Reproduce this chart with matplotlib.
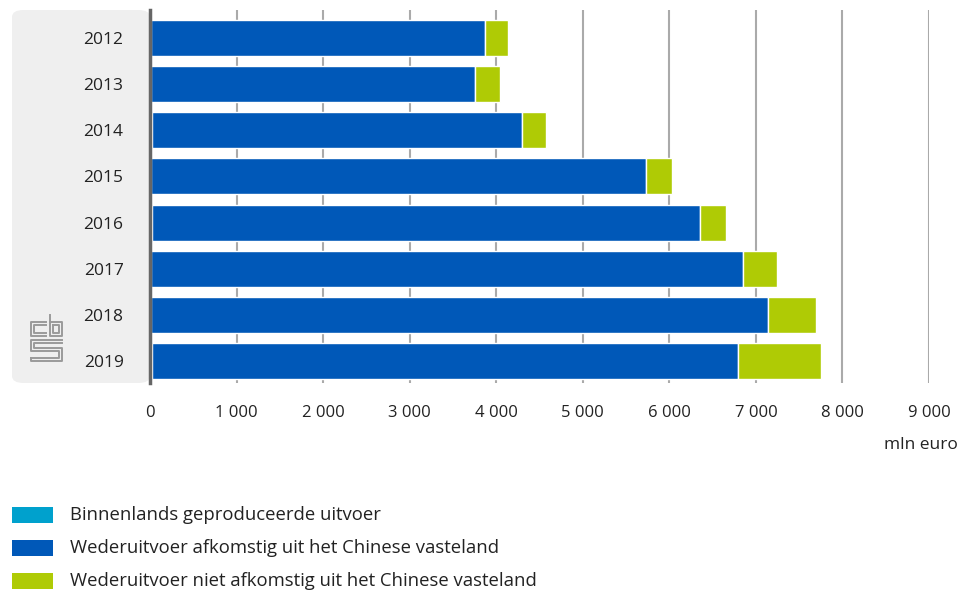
import matplotlib
matplotlib.use("Agg")
import matplotlib.pyplot as plt
from matplotlib.patches import FancyBboxPatch, Rectangle

plt.rcParams['font.family'] = ['Open Sans', 'DejaVu Sans']

years = ['2012', '2013', '2014', '2015', '2016', '2017', '2018', '2019']
binnenlands = [10, 10, 25, 10, 25, 10, 10, 25]
wederuitvoer_china = [3855, 3740, 4275, 5715, 6325, 6845, 7135, 6770]
wederuitvoer_overig = [275, 295, 275, 305, 310, 390, 545, 960]

series_labels = ['Binnenlands geproduceerde uitvoer',
                 'Wederuitvoer afkomstig uit het Chinese vasteland',
                 'Wederuitvoer niet afkomstig uit het Chinese vasteland']
colors = ['#00a1cd', '#0058b8', '#afcb05']

x_ticks = [0, 1000, 2000, 3000, 4000, 5000, 6000, 7000, 8000, 9000]
x_ticklabels = ['0', '1 000', '2 000', '3 000', '4 000', '5 000',
                '6 000', '7 000', '8 000', '9 000']

W, H = 966, 592
fig = plt.figure(figsize=(W / 100, H / 100), dpi=100)

# grey background panel behind the year labels
panel = FancyBboxPatch((12 / W, 1 - 383 / H), (150 - 12) / W, (383 - 10) / H,
                       boxstyle="round,pad=0,rounding_size=0.012",
                       transform=fig.transFigure, facecolor='#efefef',
                       edgecolor='none', zorder=-1)
fig.patches.append(panel)

ax = fig.add_axes([150 / W, 1 - 383 / H, (929 - 150) / W, (383 - 10) / H])
ax.patch.set_alpha(0)
ax.set_zorder(1)

pos = list(range(len(years)))
left = [0] * len(years)
for vals, lab, col in zip([binnenlands, wederuitvoer_china, wederuitvoer_overig],
                          series_labels, colors):
    ax.barh(pos, vals, left=left, height=0.78, color=col, edgecolor='white',
            linewidth=1.0, label=lab, zorder=3)
    left = [l + v for l, v in zip(left, vals)]

ax.set_ylim(7.47, -0.6)
ax.set_xlim(0, 9000)
ax.set_yticks(pos)
ax.set_yticklabels(years, fontsize=12.5, color='#222222')
ax.set_xticks(x_ticks)
ax.set_xticklabels(x_ticklabels, fontsize=12, color='#222222')
ax.tick_params(axis='y', length=0, pad=19)
ax.tick_params(axis='x', length=0, pad=16)
ax.xaxis.grid(True, color='#aaaaaa', linewidth=1.5, zorder=0)
ax.set_axisbelow(True)
for s in ['top', 'right', 'bottom']:
    ax.spines[s].set_visible(False)
ax.spines['left'].set_color('#666666')
ax.spines['left'].set_linewidth(2.5)
ax.spines['left'].set_zorder(5)

fig.text(958 / W, 1 - 445 / H, 'mln euro', ha='right', va='center',
         fontsize=12.5, color='#222222')

# cbs logo (simplified outline)
lc = '#9a9a9a'
def fig_line(xs, ys):
    fig.add_artist(plt.Line2D([x / W for x in xs], [1 - y / H for y in ys],
                              color=lc, linewidth=1.4, transform=fig.transFigure))
fig_line([46, 31, 31, 46], [322, 322, 336, 336])
fig_line([46, 34, 34, 46], [325, 325, 333, 333])
fig_line([50, 50, 62, 62, 50], [315, 336, 336, 322, 322])
fig_line([53, 53, 59, 59, 53], [325, 333, 333, 325, 325])
fig_line([62, 31, 31, 59, 59, 31], [340, 340, 351, 351, 358, 358])
fig_line([62, 34, 34, 62, 62, 31, 31], [343, 343, 348, 348, 361, 361, 358])

# legend
for i, (lab, col) in enumerate(zip(series_labels, colors)):
    yc = 515 + i * 33
    fig.patches.append(Rectangle((12 / W, 1 - (yc + 8) / H), 41 / W, 16 / H,
                                 transform=fig.transFigure, facecolor=col,
                                 edgecolor='none'))
    fig.text(70 / W, 1 - yc / H, lab, ha='left', va='center',
             fontsize=13.3, color='#222222')

fig.savefig('out.png', dpi=100)
